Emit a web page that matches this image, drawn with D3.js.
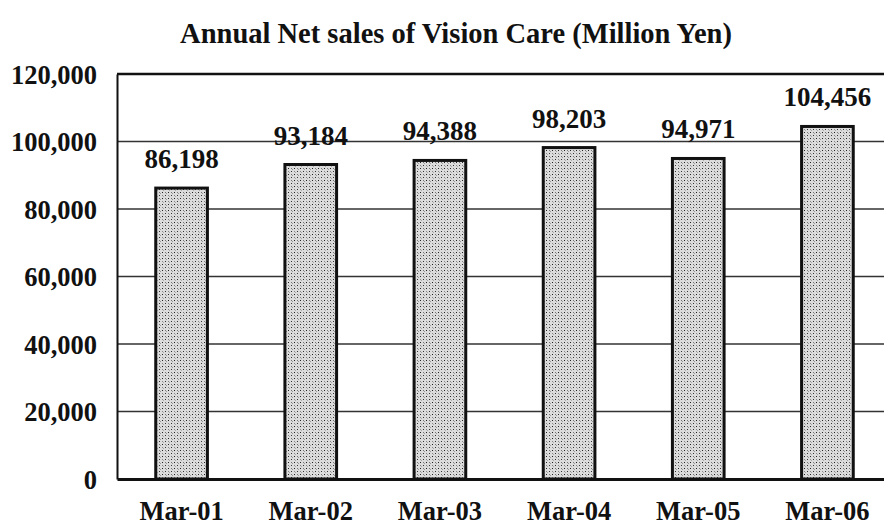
<!DOCTYPE html>
<html>
<head>
<meta charset="utf-8">
<script src="https://cdn.jsdelivr.net/npm/d3@7"></script>
<style>
  body { margin: 0; background: #fff; }
  svg text { font-family: "Liberation Serif", "Times New Roman", serif; font-weight: bold; fill: #111; }
</style>
</head>
<body>
<svg id="chart" width="884" height="529"></svg>
<script>
// data
const years = ['Mar-01', 'Mar-02', 'Mar-03', 'Mar-04', 'Mar-05', 'Mar-06']
const sales = [86198, 93184, 94388, 98203, 94971, 104456]
const yTicks = [0, 20000, 40000, 60000, 80000, 100000, 120000]

const svg = d3.select('#chart')
const margin = { left: 117, top: 74, bottom: 50 }
const plotRight = 892 // the plot runs a bit past the window edge
const height = 529 - margin.bottom - margin.top

const x = d3.scaleBand().domain(years).range([margin.left, plotRight]).paddingInner(0.6).paddingOuter(0.3)
const y = d3.scaleLinear().domain([0, 120000]).range([margin.top + height, margin.top])

// speckled fill for the bars
const defs = svg.append('defs')
const pat = defs.append('pattern')
  .attr('id', 'speckle')
  .attr('patternUnits', 'userSpaceOnUse')
  .attr('width', 6).attr('height', 6)
pat.append('rect').attr('width', 6).attr('height', 6).attr('fill', '#dcdcdc')
const dots = [[0, 0, '#222'], [3, 3, '#333'], [3, 0, '#777'], [0, 3, '#888'], [1, 4, '#aaa'], [4, 1, '#999']]
dots.forEach(function (p) {
  pat.append('rect').attr('x', p[0]).attr('y', p[1]).attr('width', 1).attr('height', 1).attr('fill', p[2])
})

svg.append('text')
  .attr('x', 456)
  .attr('y', 43)
  .attr('text-anchor', 'middle')
  .style('font-size', '28.5px')
  .text('Annual Net sales of Vision Care (Million Yen)')

// grid lines
svg.append('g')
  .selectAll('line')
  .data(yTicks.filter(d => d > 0 && d < 120000))
  .enter()
  .append('line')
  .attr('x1', margin.left).attr('x2', plotRight)
  .attr('y1', d => y(d)).attr('y2', d => y(d))
  .attr('stroke', '#333')
  .attr('stroke-width', 1.5)

// top border
svg.append('line')
  .attr('x1', margin.left).attr('x2', plotRight)
  .attr('y1', y(120000)).attr('y2', y(120000))
  .attr('stroke', '#111').attr('stroke-width', 2.5)

// y axis
const yAxis = svg.append('g')
  .attr('transform', 'translate(' + margin.left + ',0)')
  .call(d3.axisLeft(y).tickValues(yTicks).tickSize(0).tickPadding(20).tickFormat(d3.format(',')))
yAxis.select('.domain').attr('stroke', '#111').attr('stroke-width', 2)
yAxis.selectAll('text').style('font-size', '26.5px').attr('dy', '0.35em')

// bars
svg.append('g')
  .selectAll('rect')
  .data(sales)
  .enter()
  .append('rect')
  .attr('class', 'bar')
  .attr('x', (d, i) => x(years[i]))
  .attr('y', d => y(d))
  .attr('width', x.bandwidth())
  .attr('height', d => y(0) - y(d))
  .attr('fill', 'url(#speckle)')
  .attr('stroke', '#111')
  .attr('stroke-width', 3)

// value labels
svg.append('g')
  .selectAll('text')
  .data(sales)
  .enter()
  .append('text')
  .attr('x', (d, i) => x(years[i]) + x.bandwidth() / 2)
  .attr('y', d => y(d) - 20)
  .attr('text-anchor', 'middle')
  .style('font-size', '27px')
  .text(d => d3.format(',')(d))

// baseline and x labels
const xAxis = svg.append('g')
  .attr('transform', 'translate(0,' + y(0) + ')')
  .call(d3.axisBottom(x).tickSize(0).tickPadding(22))
xAxis.select('.domain').attr('stroke', '#111').attr('stroke-width', 3)
xAxis.selectAll('text').style('font-size', '26.5px')
</script>
</body>
</html>
